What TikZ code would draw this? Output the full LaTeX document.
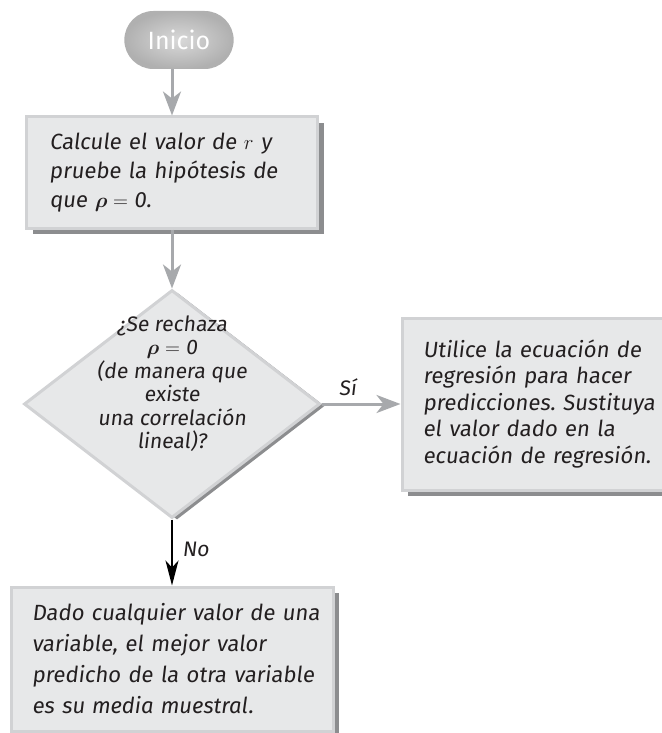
\documentclass[tikz,border=0pt]{standalone}
\usepackage{amsmath,amssymb}
\usepackage{fontspec}
\setmainfont{Fira Sans}[UprightFeatures={FakeSlant=0.12}]
\newfontfamily\pillfont{Fira Sans}
\usepackage{xcolor}
\usetikzlibrary{positioning,shapes.geometric,shapes.misc,shadows,arrows.meta}

\definecolor{boxfill}{HTML}{E7E8E9}
\definecolor{boxedge}{HTML}{D1D2D4}
\definecolor{shadowgray}{HTML}{8C8D8F}
\definecolor{arrowgray}{HTML}{A7A9AC}
\definecolor{inkgray}{HTML}{231F20}

\tikzset{
  boxshadow/.style={drop shadow={shadow xshift=6pt,shadow yshift=-6pt,fill=shadowgray,opacity=1}},
  flowbox/.style={rectangle,fill=boxfill,draw=boxedge,line width=3pt,align=left,text=inkgray,boxshadow},
  decision/.style={diamond,aspect=1.3,inner sep=-40pt,fill=boxfill,draw=boxedge,line width=3pt,align=center,text=inkgray,
    drop shadow={shadow xshift=5pt,shadow yshift=-2pt,fill=shadowgray,opacity=1}},
  startpill/.style={rounded rectangle,minimum width=116pt,minimum height=58pt,shading=radial,inner color=gray!30,outer color=gray!62,
    text=white,font=\pillfont\fontsize{25}{28}\selectfont},
  flowarrow/.style={draw=arrowgray,line width=3pt,-{Stealth[length=24pt,width=18pt,inset=7pt]}},
  noarrow/.style={draw=black,line width=2pt,-{Stealth[length=25pt,width=13pt,inset=7pt]}},
  edgelabel/.style={text=inkgray,font=\fontsize{21}{24}\selectfont}
}
\newcommand{\rhozero}{$\boldsymbol{\rho} = \mbox{0}$}

\begin{document}
\begin{tikzpicture}[x=1pt,y=-1pt]
\useasboundingbox (0,0) rectangle (661,733);
\node[startpill] (start) at (179,40) {Inicio};
\node[flowbox,text width=245pt,inner xsep=23pt,minimum height=111pt,font=\fontsize{22}{29}\selectfont] (calc) at (172,172.5)
  {Calcule el valor de $r$ y\\ pruebe la hipótesis de\\ que \rhozero.};
\node[decision,minimum width=296pt,minimum height=228pt,text depth=44pt,font=\fontsize{21}{23.5}\selectfont] (decide) at (172,404)
  {¿Se rechaza\\ \rhozero\\ (de manera que\\ existe\\ una correlación\\ lineal)?};
\node[flowbox,text width=240pt,inner xsep=21pt,minimum height=172pt,font=\fontsize{22}{26.5}\selectfont] (use) at (543,404)
  {Utilice la ecuación de\\ regresión para hacer\\ \mbox{predicciones.\ Sustituya}\\ el valor dado en la\\ ecuación de regresión.};
\node[flowbox,text width=280pt,inner xsep=21pt,minimum height=144pt,font=\fontsize{22}{31}\selectfont] (mean) at (172,659)
  {\mbox{Dado cualquier valor de una}\\ variable, el mejor valor\\ \mbox{predicho de la otra variable}\\ es su \textit{media muestral}.};
% conectores
\draw[flowarrow] (start.south -| calc.north) -- (calc.north);
\draw[flowarrow] (calc.south) -- (decide.north);
\draw[flowarrow] (decide.east) -- node[edgelabel,above=3pt,pos=0.33] (si) {Sí} (use.west);
\draw[noarrow] (decide.south) -- node[edgelabel,right=6pt,pos=0.45] (no) {No} (mean.north);
\end{tikzpicture}
\end{document}
